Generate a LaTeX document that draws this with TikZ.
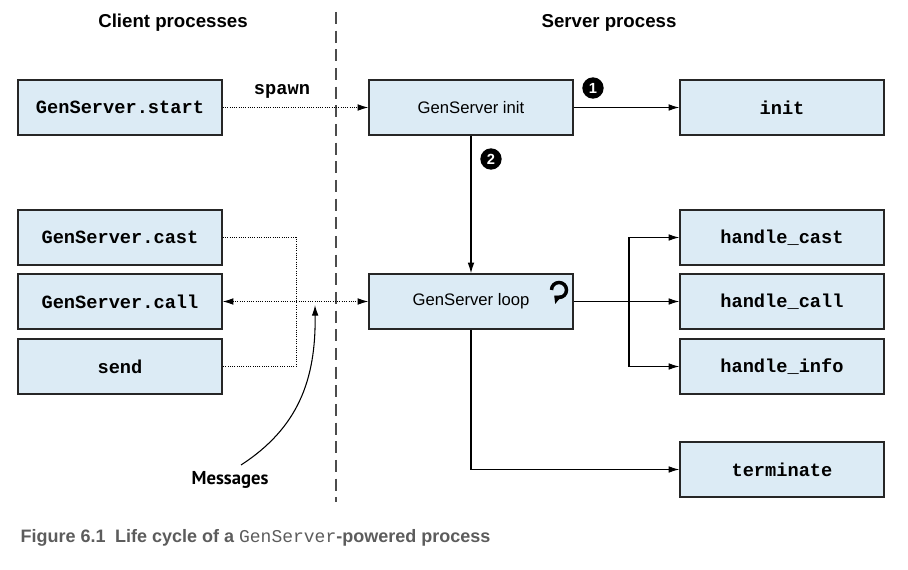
\documentclass[tikz,border=0pt]{standalone}
\usepackage{fontspec}
\setmainfont{Liberation Sans}
\setmonofont{Liberation Mono}
\newfontfamily\msgfont{PT Sans}
\usetikzlibrary{arrows.meta}
\definecolor{boxfill}{HTML}{DCEBF5}
\definecolor{capgray}{HTML}{5C5C5C}
\begin{document}
\begin{tikzpicture}[x=0.75pt, y=-0.75pt,
        box/.style={rectangle, draw=black!85, fill=boxfill, line width=1.1pt, minimum width=153pt, minimum height=41.25pt, inner sep=0pt},
        code/.style={box, font=\ttfamily\bfseries\fontsize{14}{16}\selectfont},
        proc/.style={box, font=\fontsize{12.5}{14}\selectfont},
        num/.style={circle, fill=black, text=white, inner sep=0pt, minimum size=16pt, font=\bfseries\fontsize{11}{12}\selectfont},
        head/.style={font=\bfseries\fontsize{14}{16}\selectfont},
        solid arrow/.style={line width=0.8pt, -{Latex[length=8pt, width=5pt]}},
        msg line/.style={line width=0.7pt, densely dotted}
    ]
        \useasboundingbox (0,0) rectangle (908,570);

        % Headers and separator
        \node[head] (hclient) at (173,23) {Client processes};
        \node[head] (hserver) at (609,23) {Server process};
        \draw[line width=1pt, dash pattern=on 9pt off 5pt, black!70] (336,12) -- (336,502);

        % Client side
        \node[code] (start) at (120,107.5) {GenServer.start};
        \node[code] (cast) at (120,237.5) {GenServer.cast};
        \node[code] (call) at (120,301.5) {GenServer.call};
        \node[code] (send) at (120,366.5) {send};

        % Server side
        \node[proc] (ginit) at (471,107.5) {GenServer init};
        \node[proc] (gloop) at (471,301.5) {GenServer loop};
        \node[code] (init) at (782,107.5) {init};
        \node[code] (hcast) at (782,237.5) {handle\_cast};
        \node[code] (hcall) at (782,301.5) {handle\_call};
        \node[code] (hinfo) at (782,366.5) {handle\_info};
        \node[code] (term) at (782,469.5) {terminate};

        % Step markers
        \node[num] (n1) at (593,88) {1};
        \node[num] (n2) at (491,159) {2};

        % Loop icon
        \coordinate (licon) at (559,290);
        \draw[line width=2.6pt, -{Triangle[length=4.5pt, width=8pt]}] (licon) ++(-7.5,0) arc[start angle=-180, end angle=130, radius=7.5];

        % Spawn
        \draw[msg line, -{Latex[length=8pt, width=5pt]}] (start.east) -- (ginit.west);
        \node[font=\ttfamily\bfseries\fontsize{14}{16}\selectfont] (spawn) at (282,91) {spawn};

        % Server arrows
        \draw[solid arrow] (ginit.east) -- (init.west);
        \draw[solid arrow] (ginit.south) -- (gloop.north);
        \draw[solid arrow] (gloop.east) -- (hcall.west);
        \coordinate (fork) at (629,301.5);
        \draw[solid arrow] (fork) |- (hcast.west);
        \draw[solid arrow] (fork) |- (hinfo.west);
        \draw[solid arrow] (gloop.south) |- (term.west);

        % Messages
        \coordinate (join) at (296,301.5);
        \draw[msg line] (cast.east) -| (join) |- (send.east);
        \draw[msg line, {Latex[length=8pt, width=5pt]}-{Latex[length=8pt, width=5pt]}] (call.east) -- (gloop.west);
        \node[font=\msgfont\bfseries\fontsize{14}{16}\selectfont] (msgs) at (230,480) {Messages};
        \coordinate (mpt) at (315,305);
        \draw[line width=0.8pt, -{Latex[length=8pt, width=5pt]}] (241,465) .. controls (298,428) and (316,380) .. (mpt);

        % Caption
        \node[anchor=west, text=capgray, font=\bfseries\fontsize{13.5}{16}\selectfont] (cap) at (16,538) {Figure 6.1\hspace{7pt}Life cycle of a {\ttfamily\mdseries GenServer}-powered process};
    \end{tikzpicture}
\end{document}
